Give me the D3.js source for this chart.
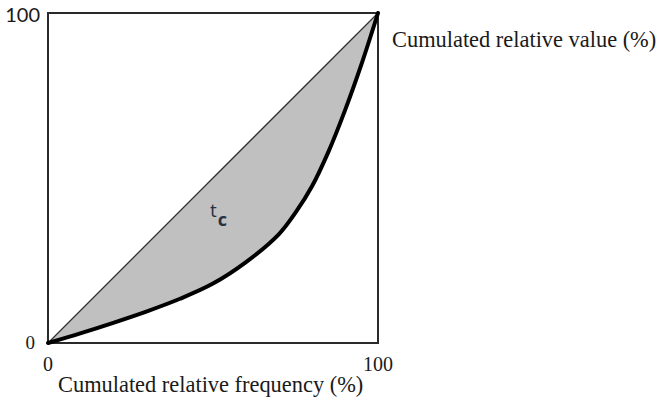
<!DOCTYPE html>
<html>
<head>
<meta charset="utf-8">
<script src="https://cdn.jsdelivr.net/npm/d3@7"></script>
<style>
body { margin: 0; background: #fff; }
</style>
</head>
<body>
<script>
// Lorenz curve points (cumulated relative frequency %, cumulated relative value %)
const freq  = [0, 10, 20, 30, 40, 50, 60, 70, 75, 80, 85, 90, 95, 100];
const value = [0, 3, 6.2, 9.6, 13.4, 18, 24.5, 33, 39.5, 47.5, 58, 70.5, 84.5, 100];
const xTicks = [0, 100];
const yTicks = [0, 100];

const data = freq.map((f, i) => ({ f: f, v: value[i] }));

const W = 659, H = 406;
const margin = { top: 13, right: 281, bottom: 63, left: 48 };
const width = W - margin.left - margin.right;
const height = H - margin.top - margin.bottom;

const x = d3.scaleLinear().domain([0, 100]).range([0, width]);
const y = d3.scaleLinear().domain([0, 100]).range([height, 0]);

const svg = d3.select("body").append("svg")
    .attr("width", W)
    .attr("height", H)
    .append("g")
    .attr("transform", `translate(${margin.left},${margin.top})`);

// shaded area between diagonal and the curve
const area = d3.area()
    .x(d => x(d.f))
    .y0(d => y(d.f))
    .y1(d => y(d.v))
    .curve(d3.curveCatmullRom);

svg.append("path")
    .datum(data)
    .attr("d", area)
    .attr("fill", "#c0c0c0");

// equality line
svg.append("line")
    .attr("x1", x(0)).attr("y1", y(0))
    .attr("x2", x(100)).attr("y2", y(100))
    .attr("stroke", "#333")
    .attr("stroke-width", 1.3);

// frame
svg.append("rect")
    .attr("x", 0).attr("y", 0)
    .attr("width", width).attr("height", height)
    .attr("fill", "none")
    .attr("stroke", "#2a2a2a")
    .attr("stroke-width", 2);

// Lorenz curve
svg.append("path")
    .datum(data)
    .attr("d", d3.line().x(d => x(d.f)).y(d => y(d.v)).curve(d3.curveCatmullRom))
    .attr("fill", "none")
    .attr("stroke", "#000")
    .attr("stroke-width", 4)
    .attr("stroke-linecap", "round");

// tick labels
svg.selectAll(".ylab")
    .data(yTicks)
    .enter().append("text")
    .attr("x", d => d === 100 ? -8 : -13)
    .attr("y", d => d === 100 ? y(d) + 9 : y(d) + 6)
    .attr("text-anchor", "end")
    .style("font-family", d => d === 100 ? "Lato, sans-serif" : "'Liberation Serif', serif")
    .style("font-size", d => d === 100 ? "20px" : "19px")
    .style("fill", "#1a1a1a")
    .text(d => d);

svg.selectAll(".xlab")
    .data(xTicks)
    .enter().append("text")
    .attr("x", d => x(d))
    .attr("y", height + 28)
    .attr("text-anchor", "middle")
    .style("font-family", "'Liberation Serif', serif")
    .style("font-size", "20px")
    .style("fill", "#1a1a1a")
    .text(d => d);

// axis titles
svg.append("text")
    .attr("x", 10)
    .attr("y", height + 49)
    .style("font-family", "'Liberation Serif', serif")
    .style("font-size", "22.4px")
    .style("fill", "#1a1a1a")
    .text("Cumulated relative frequency (%)");

svg.append("text")
    .attr("x", width + 14)
    .attr("y", 34)
    .style("font-family", "'Liberation Serif', serif")
    .style("font-size", "22.4px")
    .style("fill", "#1a1a1a")
    .text("Cumulated relative value (%)");

// t_c label
const tc = svg.append("text")
    .attr("x", x(49.1))
    .attr("y", y(38.2))
    .style("font-family", "'Open Sans', sans-serif")
    .style("font-size", "19px")
    .style("fill", "#2a3040");
tc.append("tspan").text("t");
tc.append("tspan")
    .attr("dx", 1)
    .attr("dy", 9)
    .style("font-weight", "bold")
    .style("font-size", "18px")
    .text("c");
</script>
</body>
</html>
